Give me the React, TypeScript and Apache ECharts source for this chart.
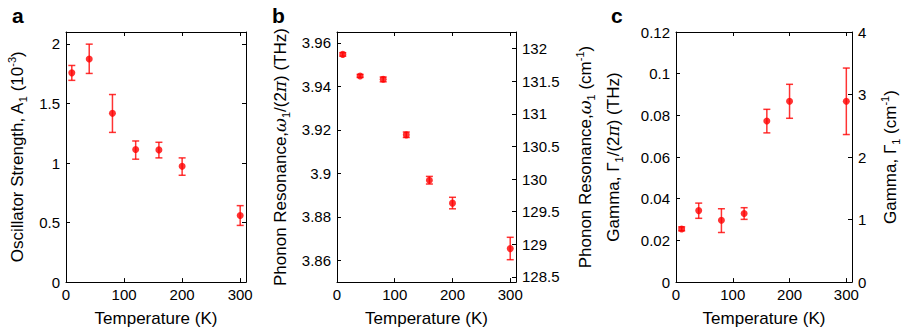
import React, { useEffect, useRef } from "react";
import * as echarts from "echarts";

// ---------- data ----------
const temperature = [10, 40, 80, 120, 160, 200, 300];

const strength = [1.757, 1.874, 1.417, 1.113, 1.11, 0.972, 0.559];
const strengthLo = [1.694, 1.752, 1.257, 1.032, 1.043, 0.897, 0.476];
const strengthHi = [1.819, 1.998, 1.575, 1.185, 1.174, 1.043, 0.642];

const resonance = [3.9547, 3.9448, 3.9433, 3.9177, 3.8968, 3.8863, 3.8654];
const resonanceLo = [3.9539, 3.9441, 3.9421, 3.9165, 3.8951, 3.8837, 3.8603];
const resonanceHi = [3.9555, 3.9455, 3.9443, 3.919, 3.8986, 3.889, 3.8706];

const gamma = [0.0255, 0.0343, 0.0297, 0.0329, 0.0773, 0.0868, 0.0868];
const gammaLo = [0.0246, 0.0306, 0.0238, 0.0301, 0.0716, 0.0786, 0.0708];
const gammaHi = [0.0265, 0.0379, 0.0352, 0.0357, 0.0829, 0.0949, 0.1027];

const tempTicks = [0, 100, 200, 300];
const strengthTicks = [0, 0.5, 1, 1.5, 2];
const resonanceTicks = [3.86, 3.88, 3.9, 3.92, 3.94, 3.96];
const resonanceCmTicks = [128.5, 129, 129.5, 130, 130.5, 131, 131.5, 132];
const gammaTicks = [0, 0.02, 0.04, 0.06, 0.08, 0.1, 0.12];
const gammaCmTicks = [0, 1, 2, 3, 4];

const THZ_TO_CM = 33.356;

const FONT = "Liberation Sans, Arial, Helvetica, sans-serif";
const RED = "#ff0000";

function tickFormatter(ticks: number[]) {
  return (v: number) => {
    for (const t of ticks) {
      if (Math.abs(t - v) < 1e-7 * Math.max(1, Math.abs(t))) return String(t);
    }
    return "";
  };
}

const titleRich = {
  sub: { fontSize: 11, fontFamily: FONT, color: "#000", verticalAlign: "bottom", lineHeight: 12 },
  sup: { fontSize: 11, fontFamily: FONT, color: "#000", verticalAlign: "top", lineHeight: 12 },
  it: { fontSize: 17, fontFamily: "DejaVu Serif, serif", fontStyle: "italic", color: "#000", lineHeight: 22 },
};

const nameStyle = { fontSize: 17, fontFamily: FONT, color: "#000", lineHeight: 22, rich: titleRich };

const lineStyle = { color: "#000", width: 1 };

function errorSeries(xi: number, yi: number, lo: number[], hi: number[]) {
  return {
    type: "custom",
    xAxisIndex: xi,
    yAxisIndex: yi,
    data: temperature.map((t, i) => [t, lo[i], hi[i]]),
    encode: { x: 0, y: [1, 2] },
    silent: true,
    z: 2,
    renderItem: (_params: any, api: any) => {
      const x = api.value(0);
      const pLo = api.coord([x, api.value(1)]);
      const pHi = api.coord([x, api.value(2)]);
      const cap = 3.5;
      const st = { stroke: "rgba(255,0,0,0.8)", lineWidth: 1.5 };
      return {
        type: "group",
        children: [
          { type: "line", shape: { x1: pLo[0], y1: pLo[1], x2: pHi[0], y2: pHi[1] }, style: st },
          { type: "line", shape: { x1: pLo[0] - cap, y1: pLo[1], x2: pLo[0] + cap, y2: pLo[1] }, style: st },
          { type: "line", shape: { x1: pHi[0] - cap, y1: pHi[1], x2: pHi[0] + cap, y2: pHi[1] }, style: st },
        ],
      };
    },
  };
}

function pointSeries(xi: number, yi: number, vals: number[]) {
  return {
    type: "scatter",
    xAxisIndex: xi,
    yAxisIndex: yi,
    data: temperature.map((t, i) => [t, vals[i]]),
    symbol: "circle",
    symbolSize: 7,
    itemStyle: { color: RED },
    z: 3,
  };
}

function bottomX(grid: number) {
  return {
    type: "value",
    gridIndex: grid,
    position: "bottom",
    min: 0,
    max: 310,
    interval: 100,
    name: "Temperature (K)",
    nameLocation: "middle",
    nameGap: 24,
    nameTextStyle: nameStyle,
    axisLine: { show: true, onZero: false, lineStyle },
    axisTick: { show: true, inside: true, length: 4, lineStyle },
    axisLabel: { fontSize: 15, fontFamily: FONT, color: "#000", margin: 5, formatter: tickFormatter(tempTicks) },
    splitLine: { show: false },
  };
}

function topX(grid: number) {
  return {
    type: "value",
    gridIndex: grid,
    position: "top",
    min: 0,
    max: 310,
    interval: 100,
    axisLine: { show: true, onZero: false, lineStyle },
    axisTick: { show: true, inside: true, length: 4, lineStyle },
    axisLabel: { show: false },
    splitLine: { show: false },
  };
}

function yAxis(opts: any) {
  return {
    type: "value",
    nameLocation: "middle",
    nameRotate: 90,
    nameTextStyle: nameStyle,
    axisLine: { show: true, onZero: false, lineStyle },
    axisTick: { show: true, inside: true, length: 4, lineStyle },
    splitLine: { show: false },
    ...opts,
    axisLabel: {
      fontSize: 15,
      fontFamily: FONT,
      color: "#000",
      margin: 6,
      ...(opts.axisLabel || {}),
    },
  };
}

export default function App() {
  const ref = useRef<HTMLDivElement>(null);
  useEffect(() => {
    if (!ref.current) return;
    const chart = echarts.init(ref.current, undefined, { renderer: "svg" });
    const rMin = 3.85;
    const rMax = 3.965;
    chart.setOption({
      animation: false,
      backgroundColor: "#fff",
      grid: [
        { left: 66, top: 32, width: 180, height: 252, show: false },
        { left: 337, top: 32, width: 179, height: 253, show: false },
        { left: 676, top: 32, width: 179, height: 252, show: false },
      ],
      xAxis: [bottomX(0), topX(0), bottomX(1), topX(1), bottomX(2), topX(2)],
      yAxis: [
        // panel a
        yAxis({
          gridIndex: 0,
          position: "left",
          min: 0,
          max: 2.1,
          interval: 0.5,
          name: "Oscillator Strength, A{sub|1} (10{sup|-3})",
          nameGap: 38,
          axisLabel: { formatter: tickFormatter(strengthTicks) },
        }),
        yAxis({
          gridIndex: 0,
          position: "right",
          min: 0,
          max: 2.1,
          interval: 0.5,
          axisLabel: { show: false },
        }),
        // panel b
        yAxis({
          gridIndex: 1,
          position: "left",
          min: rMin,
          max: rMax,
          minInterval: 0.02,
          maxInterval: 0.02,
          name: "Phonon Resonance,{it|ω}{sub|1}/(2{it|π}) (THz)",
          nameGap: 46,
          axisLabel: { formatter: tickFormatter(resonanceTicks) },
        }),
        yAxis({
          gridIndex: 1,
          position: "right",
          min: rMin * THZ_TO_CM,
          max: rMax * THZ_TO_CM,
          minInterval: 0.5,
          maxInterval: 0.5,
          name: "Phonon Resonance,{it|ω}{sub|1} (cm{sup|-1})",
          nameGap: 58,
          axisLabel: { formatter: tickFormatter(resonanceCmTicks) },
        }),
        // panel c
        yAxis({
          gridIndex: 2,
          position: "left",
          min: 0,
          max: 0.12,
          interval: 0.02,
          name: "Gamma, Γ{sub|1}/(2{it|π}) (THz)",
          nameGap: 52,
          axisLabel: { formatter: tickFormatter(gammaTicks) },
        }),
        yAxis({
          gridIndex: 2,
          position: "right",
          min: 0,
          max: 4,
          interval: 1,
          name: "Gamma, Γ{sub|1} (cm{sup|-1})",
          nameGap: 27,
          axisLabel: { formatter: tickFormatter(gammaCmTicks) },
        }),
      ],
      graphic: [
        { type: "text", left: 12, top: 5, style: { text: "a", font: `bold 21px ${FONT}`, fill: "#000" } },
        { type: "text", left: 272, top: 5, style: { text: "b", font: `bold 21px ${FONT}`, fill: "#000" } },
        { type: "text", left: 611, top: 5, style: { text: "c", font: `bold 21px ${FONT}`, fill: "#000" } },
      ],
      series: [
        errorSeries(0, 0, strengthLo, strengthHi),
        pointSeries(0, 0, strength),
        errorSeries(2, 2, resonanceLo, resonanceHi),
        pointSeries(2, 2, resonance),
        errorSeries(4, 4, gammaLo, gammaHi),
        pointSeries(4, 4, gamma),
      ],
    });
    return () => chart.dispose();
  }, []);
  return (
    <div
      ref={ref}
      style={{ position: "absolute", left: 0, top: 0, width: 902, height: 334, background: "#fff" }}
    />
  );
}
